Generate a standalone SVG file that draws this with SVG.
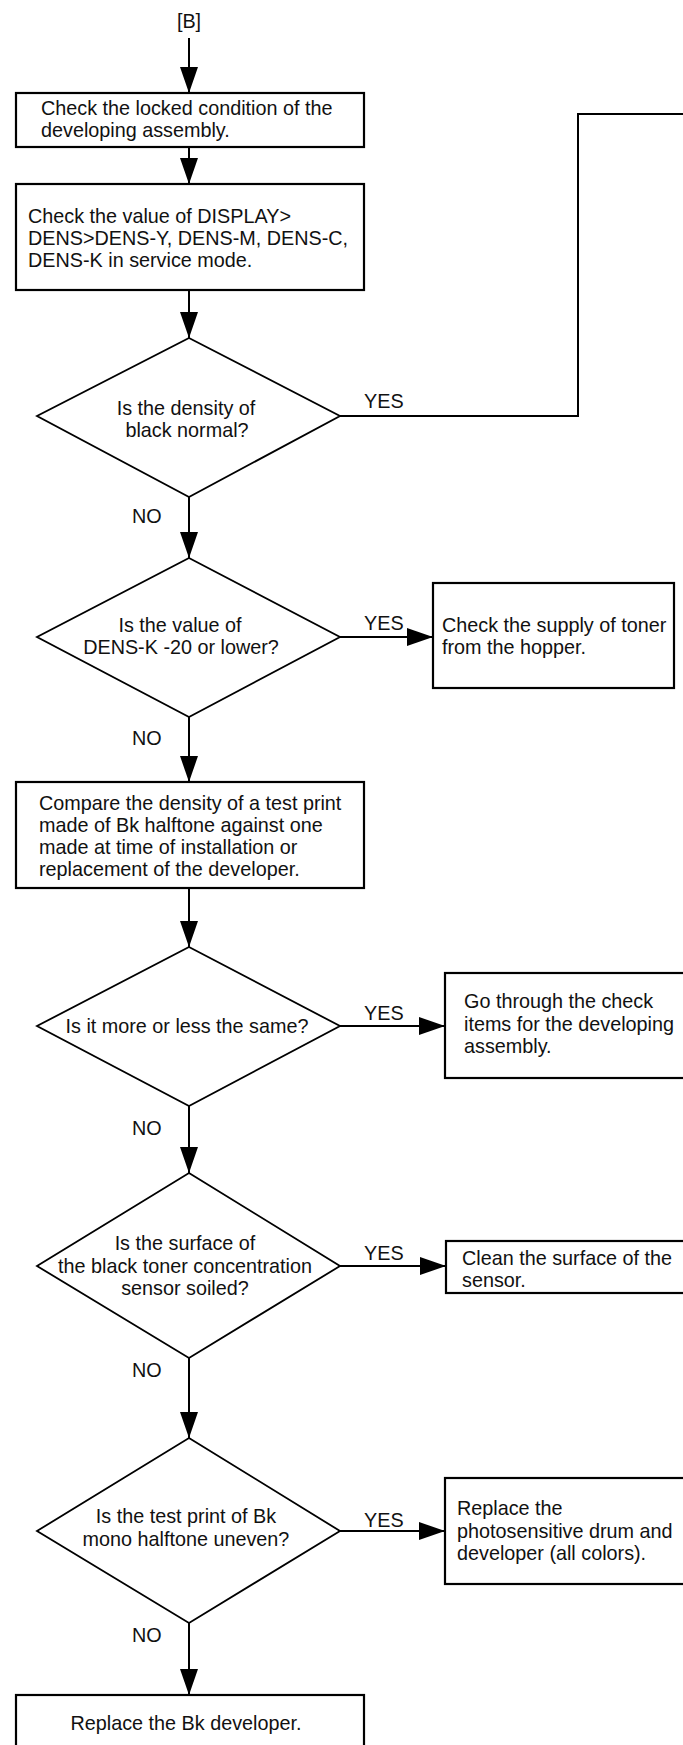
<svg xmlns="http://www.w3.org/2000/svg" width="683" height="1745" viewBox="0 0 683 1745">
<style>
text{font-family:"Liberation Sans",Arial,sans-serif;font-size:19.8px;fill:#111}
.c{text-anchor:middle}
.box{fill:#fff;stroke:#000;stroke-width:2.2}
.dia{fill:#fff;stroke:#000;stroke-width:1.8}
.ln{fill:none;stroke:#000;stroke-width:2}
</style>
<defs>
<marker id="ah" markerUnits="userSpaceOnUse" markerWidth="26" markerHeight="18" refX="26" refY="9" orient="auto">
<path d="M0,0 L26,9 L0,18 Z" fill="#000"/>
</marker>
</defs>
<rect width="683" height="1745" fill="#fff"/>
<g id="connectors">
<line class="ln" x1="189" y1="38" x2="189" y2="93" marker-end="url(#ah)"/>
<line class="ln" x1="189" y1="147" x2="189" y2="184" marker-end="url(#ah)"/>
<line class="ln" x1="189" y1="290" x2="189" y2="338" marker-end="url(#ah)"/>
<polyline class="ln" points="340,416 578,416 578,114 684,114"/>
<line class="ln" x1="189" y1="497" x2="189" y2="558" marker-end="url(#ah)"/>
<line class="ln" x1="340" y1="637" x2="433" y2="637" marker-end="url(#ah)"/>
<line class="ln" x1="189" y1="717" x2="189" y2="782" marker-end="url(#ah)"/>
<line class="ln" x1="189" y1="888" x2="189" y2="947" marker-end="url(#ah)"/>
<line class="ln" x1="340" y1="1026" x2="445" y2="1026" marker-end="url(#ah)"/>
<line class="ln" x1="189" y1="1106" x2="189" y2="1173" marker-end="url(#ah)"/>
<line class="ln" x1="340" y1="1266" x2="446" y2="1266" marker-end="url(#ah)"/>
<line class="ln" x1="189" y1="1358" x2="189" y2="1438" marker-end="url(#ah)"/>
<line class="ln" x1="340" y1="1531" x2="445" y2="1531" marker-end="url(#ah)"/>
<line class="ln" x1="189" y1="1623" x2="189" y2="1695" marker-end="url(#ah)"/>
<text x="364" y="408">YES</text>
<text x="132" y="523">NO</text>
<text x="364" y="630">YES</text>
<text x="132" y="745">NO</text>
<text x="364" y="1020">YES</text>
<text x="132" y="1135">NO</text>
<text x="364" y="1260">YES</text>
<text x="132" y="1377">NO</text>
<text x="364" y="1527">YES</text>
<text x="132" y="1642">NO</text>
</g>
<g id="start">
<text class="c" x="189" y="28">[B]</text>
</g>
<g id="box1">
<rect class="box" x="16" y="93" width="348" height="54"/>
<text x="41" y="115">Check the locked condition of the</text>
<text x="41" y="137">developing assembly.</text>
</g>
<g id="box2">
<rect class="box" x="16" y="184" width="348" height="106"/>
<text x="28" y="223">Check the value of DISPLAY&gt;</text>
<text x="28" y="245">DENS&gt;DENS-Y, DENS-M, DENS-C,</text>
<text x="28" y="267">DENS-K in service mode.</text>
</g>
<g id="dia1">
<polygon class="dia" points="189,338 340,416 189,497 37,416"/>
<text class="c" x="186" y="415">Is the density of</text>
<text class="c" x="187" y="437">black normal?</text>
</g>
<g id="dia2">
<polygon class="dia" points="189,558 340,637 189,717 37,637"/>
<text class="c" x="180" y="632">Is the value of</text>
<text class="c" x="181" y="654">DENS-K -20 or lower?</text>
</g>
<g id="box-toner">
<rect class="box" x="433" y="583" width="241" height="105"/>
<text x="442" y="632">Check the supply of toner</text>
<text x="442" y="654">from the hopper.</text>
</g>
<g id="box3">
<rect class="box" x="16" y="782" width="348" height="106"/>
<text x="39" y="810">Compare the density of a test print</text>
<text x="39" y="832">made of Bk halftone against one</text>
<text x="39" y="854">made at time of installation or</text>
<text x="39" y="876">replacement of the developer.</text>
</g>
<g id="dia3">
<polygon class="dia" points="189,947 340,1026 189,1106 37,1026"/>
<text class="c" x="187" y="1033">Is it more or less the same?</text>
</g>
<g id="box-check">
<rect class="box" x="445" y="973" width="250" height="105"/>
<text x="464" y="1008">Go through the check</text>
<text x="464" y="1031">items for the developing</text>
<text x="464" y="1053">assembly.</text>
</g>
<g id="dia4">
<polygon class="dia" points="189,1173 340,1266 189,1358 37,1266"/>
<text class="c" x="185" y="1250">Is the surface of</text>
<text class="c" x="185" y="1273">the black toner concentration</text>
<text class="c" x="185" y="1295">sensor soiled?</text>
</g>
<g id="box-clean">
<rect class="box" x="446" y="1241" width="250" height="52"/>
<text x="462" y="1265">Clean the surface of the</text>
<text x="462" y="1287">sensor.</text>
</g>
<g id="dia5">
<polygon class="dia" points="189,1438 340,1531 189,1623 37,1531"/>
<text class="c" x="186" y="1523">Is the test print of Bk</text>
<text class="c" x="186" y="1546">mono halftone uneven?</text>
</g>
<g id="box-replace">
<rect class="box" x="445" y="1478" width="250" height="106"/>
<text x="457" y="1515">Replace the</text>
<text x="457" y="1538">photosensitive drum and</text>
<text x="457" y="1560">developer (all colors).</text>
</g>
<g id="box-final">
<rect class="box" x="16" y="1695" width="348" height="70"/>
<text class="c" x="186" y="1730">Replace the Bk developer.</text>
</g>
</svg>
